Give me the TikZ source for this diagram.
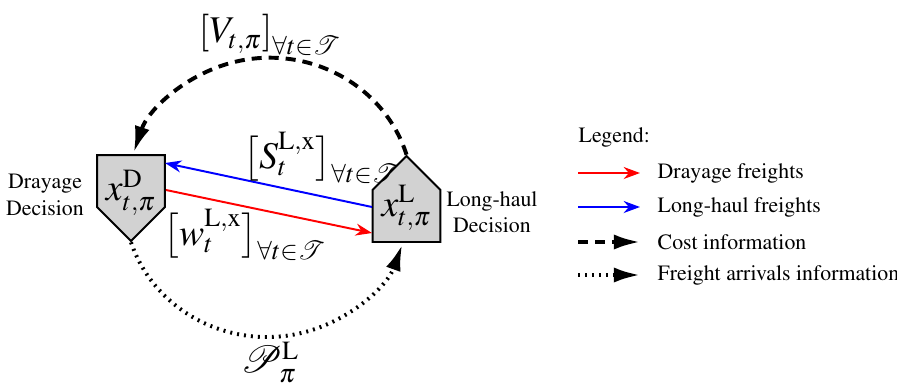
\documentclass[tikz,border=0pt]{standalone}
\usepackage[T1]{fontenc}
\usepackage{mathptmx}
\usepackage{amsmath}
\usepackage{mathrsfs}
\usepackage{tikz}
\usetikzlibrary{arrows.meta,shapes.symbols}

\tikzset{
  decision/.style={signal, signal pointer angle=90, draw, line width=0.9pt,
    fill=gray!35, minimum width=31.1pt, minimum height=23.8pt, inner sep=0pt, font=\LARGE},
  freight/.style={line width=0.9pt, -{Stealth[length=7.5pt,width=5.5pt]}},
  costinfo/.style={line width=1.8pt, dash pattern=on 4.6pt off 3.2pt, -{Latex[length=12pt,width=7pt]}},
  arrivalinfo/.style={line width=1.8pt, dash pattern=on 0.9pt off 2.3pt, -{Latex[length=12pt,width=7pt]}},
}

\begin{document}
\begin{tikzpicture}[x=0.458pt, y=0.458pt]
  \useasboundingbox (0,0) rectangle (897,383);
  % DECISION NODES
  \node[decision, signal to=south, text height=21pt, text depth=2.8pt] (dray) at (131,202) {$x^{\mathrm{D}}_{t,\pi}$};
  \node[decision, signal to=north, text height=12pt, text depth=11.8pt] (long) at (406.5,167) {$x^{\mathrm{L}}_{t,\pi}$};
  \node[align=center] (draytxt) at (45,188) {Drayage\\Decision};
  \node[align=center] (longtxt) at (492,171) {Long-haul\\Decision};
  % Freight flows between the decisions
  \draw[freight, blue] ([shift={(-34.5,9)}]long.center) -- ([shift={(34,18)}]dray.center);
  \draw[freight, red] ([shift={(35,-9)}]dray.center) -- ([shift={(-34.5,-17)}]long.center);
  \node[anchor=west, font=\LARGE, inner sep=0pt] (slab) at (243,225) {$\bigl[S^{\mathrm{L,x}}_t\bigr]_{\forall t\in\mathscr{T}}$};
  \node[anchor=west, font=\LARGE, inner sep=0pt] (wlab) at (163,148) {$\bigl[w^{\mathrm{L,x}}_t\bigr]_{\forall t\in\mathscr{T}}$};
  % Information loops
  \draw[costinfo] (long.north) arc[start angle=17, end angle=162, x radius=143, y radius=137];
  \node[font=\LARGE] (vlab) at (270,348) {$\left[V_{t,\pi}\right]_{\forall t\in\mathscr{T}}$};
  \draw[arrivalinfo] (dray.south) arc[start angle=198, end angle=341, x radius=143, y radius=137];
  \node[font=\LARGE] (plab) at (270,21) {$\mathscr{P}^{\mathrm{L}}_{\pi}$};
  % LEGEND
  \node[anchor=west] (legend) at (571,246) {Legend:};
  \coordinate (lr0) at (578,210); \coordinate (lr1) at (640,210);
  \draw[freight, red] (lr0) -- (lr1);
  \node[anchor=west] (ldray) at (650,210) {Drayage freights};
  \coordinate (lb0) at (578,176); \coordinate (lb1) at (640,176);
  \draw[freight, blue] (lb0) -- (lb1);
  \node[anchor=west] (llong) at (650,176) {Long-haul freights};
  \coordinate (lc0) at (578,141); \coordinate (lc1) at (640,141);
  \draw[costinfo] (lc0) -- (lc1);
  \node[anchor=west] (lcost) at (650,141) {Cost information};
  \coordinate (la0) at (578,108); \coordinate (la1) at (640,108);
  \draw[arrivalinfo] (la0) -- (la1);
  \node[anchor=west] (larr) at (650,108) {Freight arrivals information};
\end{tikzpicture}
\end{document}
